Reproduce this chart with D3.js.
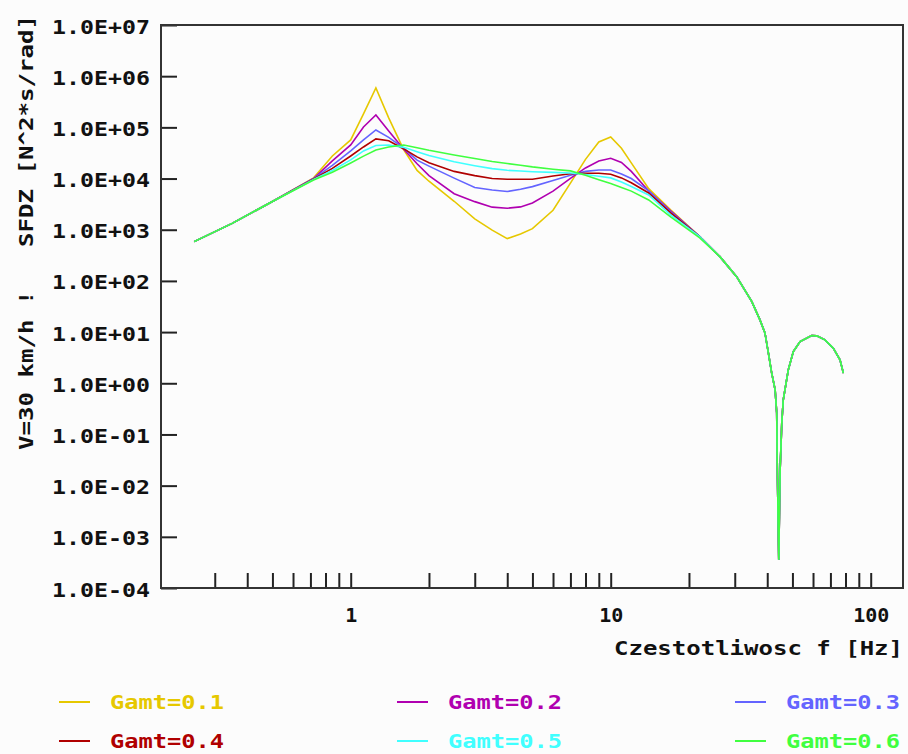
<!DOCTYPE html>
<html lang="pl">
  <head>
    <meta charset="utf-8" />
    <title>SFDZ – widmo, V=30 km/h</title>
    <style>
      body {
        margin: 0;
        background: #fcfcfc;
      }
      svg text {
        font-family: 'DejaVu Sans Mono', monospace;
        font-weight: bold;
      }
    </style>
    <script src="https://d3js.org/d3.v7.min.js"></script>
  </head>

  <body>
    <svg width="908" height="754"></svg>

    <script>
      // frequency grid [Hz]
      const freq = [
        0.25, 0.35, 0.5, 0.72, 0.85, 1.0, 1.12, 1.25, 1.4, 1.6, 1.8, 2.0,
        2.5, 3.0, 3.5, 4.0, 4.5, 5.0, 6.0, 7.0, 8.0, 9.0, 10, 11, 12, 14,
        17, 22, 26.3, 30.5, 34.9, 37.5, 39.2, 40.4, 41.6, 42.9, 43.5, 43.7,
        44.3, 44.8, 45.5, 46.1, 48.2, 50.4, 53.5, 59.3, 62, 66.7, 71.8,
        76.2, 78.5,
      ];

      // high-frequency part is the same for every Gamt
      const tail = [
        298, 121, 39.4, 17.3, 9.65, 3.92, 1.6, 0.743, 0.264, 0.0279,
        0.000356, 0.0178, 0.168, 0.474, 1.83, 4.16, 6.52, 8.55, 8.43,
        7.04, 4.85, 2.86, 1.58,
      ];

      const gamt01 = [
        586, 1330, 3570, 10300, 27600, 56800, 183000, 588000, 153000,
        36500, 14400, 8860, 3600, 1630, 982, 670, 828, 1050, 2400, 8130,
        23700, 51900, 64900, 39100, 20200, 6350, 2440, 733,
      ];
      const gamt02 = [
        586, 1330, 3570, 10000, 22100, 45300, 102000, 175000, 85100,
        37200, 19500, 11400, 5050, 3540, 2760, 2630, 2790, 3340, 5680,
        10100, 16100, 22100, 24900, 20600, 13800, 5730, 2330, 733,
      ];
      const gamt03 = [
        586, 1330, 3570, 10000, 18000, 34600, 56800, 89000, 63800, 39200,
        22900, 17500, 10200, 6700, 5990, 5570, 6180, 6950, 9180, 11600,
        13800, 14700, 14700, 12300, 10000, 5730, 2230, 733,
      ];
      const gamt04 = [
        586, 1330, 3570, 9820, 15800, 27600, 41400, 59400, 54700, 37900,
        26500, 20300, 13800, 11400, 10000, 9690, 9690, 9690, 11200, 12400,
        12700, 12700, 12100, 10300, 8280, 5230, 2130, 733,
      ];
      const gamt05 = [
        586, 1330, 3570, 9600, 14400, 23100, 34600, 44300, 45300, 40700,
        33400, 28100, 21200, 17800, 15600, 14500, 14000, 13600, 13200,
        12800, 12000, 11100, 10300, 8580, 7010, 4780, 1950, 733,
      ];
      const gamt06 = [
        586, 1330, 3570, 9390, 13300, 20200, 27400, 36200, 41200, 45300,
        40000, 35700, 28800, 24600, 21600, 19700, 18200, 16900, 15200,
        14100, 11600, 9520, 8020, 6700, 5680, 3820, 1780, 692,
      ];

      const seriesNames = [
        'Gamt=0.1', 'Gamt=0.2', 'Gamt=0.3',
        'Gamt=0.4', 'Gamt=0.5', 'Gamt=0.6',
      ];
      const seriesColors = [
        '#e6c800', '#b000b0', '#6464ff', '#b00000', '#40ffff', '#40ff40',
      ];

      const xTicks = [
        0.3, 0.4, 0.5, 0.6, 0.7, 0.8, 0.9, 1, 2, 3, 4, 5, 6, 7, 8, 9, 10,
        20, 30, 40, 50, 60, 70, 80, 90, 100,
      ];
      const xTickLabels = { 1: '1', 10: '10', 100: '100' };
      const yTicks = [1e7, 1e6, 1e5, 1e4, 1e3, 1e2, 1e1, 1, 1e-1, 1e-2, 1e-3, 1e-4];
      const yTickLabels = [
        '1.0E+07', '1.0E+06', '1.0E+05', '1.0E+04', '1.0E+03', '1.0E+02',
        '1.0E+01', '1.0E+00', '1.0E-01', '1.0E-02', '1.0E-03', '1.0E-04',
      ];

      const svg = d3.select('svg');
      const box = { left: 161, right: 903, top: 25, bottom: 588 };

      const x = d3.scaleLog().domain([1, 100]).range([350.7, 870.7]);
      const y = d3.scaleLog().domain([1e-4, 1e7]).range([box.bottom, box.top]);

      // axes (ticks pointing inward)
      const xAxis = svg
        .append('g')
        .attr('transform', `translate(0,${box.bottom})`)
        .call(
          d3
            .axisBottom(x)
            .tickValues(xTicks)
            .tickSize(-15)
            .tickFormat((d) => xTickLabels[d] || ''),
        );
      xAxis.select('.domain').remove();
      xAxis.selectAll('line').attr('stroke', '#222').attr('stroke-width', 2);
      xAxis
        .selectAll('text')
        .attr('y', 34)
        .attr('dy', 0)
        .attr('fill', '#111')
        .style('font-size', '20px');

      const yAxis = svg
        .append('g')
        .attr('transform', `translate(${box.left},0)`)
        .call(
          d3
            .axisLeft(y)
            .tickValues(yTicks)
            .tickSize(-16)
            .tickPadding(11)
            .tickFormat((d, i) => yTickLabels[i]),
        );
      yAxis.select('.domain').remove();
      yAxis.selectAll('line').attr('stroke', '#222').attr('stroke-width', 2);
      yAxis
        .selectAll('text')
        .attr('dy', 8)
        .attr('fill', '#111')
        .attr('textLength', 98)
        .attr('lengthAdjust', 'spacingAndGlyphs')
        .style('font-size', '20px');

      // frame
      svg
        .append('rect')
        .attr('x', box.left)
        .attr('y', box.top)
        .attr('width', box.right - box.left)
        .attr('height', box.bottom - box.top)
        .attr('fill', 'none')
        .attr('stroke', '#333')
        .attr('stroke-width', 2);

      // curves
      const allSeries = [gamt01, gamt02, gamt03, gamt04, gamt05, gamt06];
      const line = d3
        .line()
        .x((d) => x(d[0]))
        .y((d) => y(d[1]));

      allSeries.forEach((vals, i) => {
        const pts = freq.map((f, j) => [f, j < vals.length ? vals[j] : tail[j - vals.length]]);
        svg
          .append('path')
          .datum(pts)
          .attr('d', line)
          .attr('fill', 'none')
          .attr('stroke', seriesColors[i])
          .attr('stroke-width', 1.6);
      });

      // axis titles
      svg
        .append('text')
        .attr('x', 903)
        .attr('y', 655)
        .attr('text-anchor', 'end')
        .attr('fill', '#111')
        .attr('textLength', 289)
        .attr('lengthAdjust', 'spacingAndGlyphs')
        .style('font-size', '20px')
        .text('Czestotliwosc f [Hz]');

      svg
        .append('text')
        .attr('transform', 'translate(33,450) rotate(-90)')
        .attr('fill', '#111')
        .attr('textLength', 435)
        .attr('lengthAdjust', 'spacingAndGlyphs')
        .style('font-size', '20px')
        .style('white-space', 'pre')
        .text('V=30 km/h !   SFDZ [N^2*s/rad]');

      // legend
      const legX = [59, 397, 735];
      const legY = [702, 741];
      seriesNames.forEach((name, i) => {
        const cx = legX[i % 3];
        const cy = legY[Math.floor(i / 3)];
        svg
          .append('line')
          .attr('x1', cx)
          .attr('x2', cx + 31)
          .attr('y1', cy)
          .attr('y2', cy)
          .attr('stroke', seriesColors[i])
          .attr('stroke-width', 2);
        svg
          .append('text')
          .attr('x', cx + 51)
          .attr('y', cy + 7)
          .attr('fill', seriesColors[i])
          .attr('textLength', 114)
          .attr('lengthAdjust', 'spacingAndGlyphs')
          .style('font-size', '19px')
          .text(name);
      });
    </script>
  </body>
</html>
